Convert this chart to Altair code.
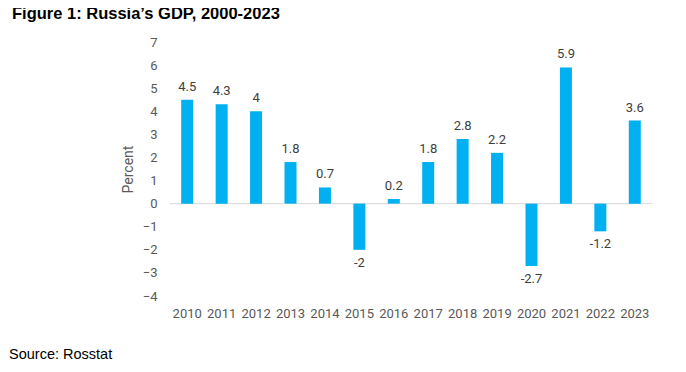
import altair as alt
import pandas as pd

years = ["2010", "2011", "2012", "2013", "2014", "2015", "2016", "2017",
         "2018", "2019", "2020", "2021", "2022", "2023"]
growth = [4.5, 4.3, 4, 1.8, 0.7, -2, 0.2, 1.8, 2.8, 2.2, -2.7, 5.9, -1.2, 3.6]
y_ticks = [-4, -3, -2, -1, 0, 1, 2, 3, 4, 5, 6, 7]
title_text = "Figure 1: Russia\u2019s GDP, 2000-2023"
source_text = "Source: Rosstat"

df = pd.DataFrame({"year": years, "value": growth})
df["label"] = [f"{v:g}" for v in growth]

FONT = "Roboto"
GRAY = "#595959"
y_scale = alt.Scale(domain=[-4, 7], nice=False, zero=False)
x_scale = alt.Scale(paddingInner=0.0, paddingOuter=0.0)

x_axis = alt.Axis(labelAngle=0, domain=False, ticks=False, tickSize=0,
                  labelPadding=11, labelFont=FONT, labelFontSize=13,
                  labelColor=GRAY)
y_axis = alt.Axis(values=y_ticks, grid=False, domain=False, ticks=False,
                  tickSize=0, labelPadding=13, labelFont=FONT,
                  labelFontSize=13, labelColor=GRAY, labelOverlap=False,
                  titleFont=FONT, titleFontSize=14, titleColor=GRAY,
                  titleFontWeight="normal", titleX=-42, titleY=127,
                  titleAngle=-90, titleBaseline="middle")


def xe():
    return alt.X("year:N", sort=years, title=None, scale=x_scale, axis=x_axis)


def ye(field="value:Q"):
    return alt.Y(field, title="Percent", scale=y_scale, axis=y_axis)


base = alt.Chart(df)

bars = base.mark_bar(size=12, color="#00B0F0").encode(x=xe(), y=ye())

zero = alt.Chart(pd.DataFrame({"z": [0]})).mark_rule(
    color="#d9d9d9", strokeWidth=1).encode(y=ye("z:Q"))

pos_labels = base.transform_filter("datum.value >= 0").mark_text(
    baseline="bottom", dy=-6, font=FONT, fontSize=13, color="#404040").encode(
    x=xe(), y=ye(), text="label:N")
neg_labels = base.transform_filter("datum.value < 0").mark_text(
    baseline="top", dy=7, font=FONT, fontSize=13, color="#404040").encode(
    x=xe(), y=ye(), text="label:N")

title_mark = alt.Chart(pd.DataFrame({"t": [title_text]})).mark_text(
    align="left", baseline="middle", font="Liberation Sans", fontSize=16.5,
    fontWeight="bold", color="#000000").encode(
    x=alt.value(-158), y=alt.value(-28), text="t:N")
source_mark = alt.Chart(pd.DataFrame({"t": [source_text]})).mark_text(
    align="left", baseline="middle", font="Liberation Sans", fontSize=14.5,
    color="#000000").encode(
    x=alt.value(-161), y=alt.value(313), text="t:N")

chart = alt.layer(zero, bars, pos_labels, neg_labels, title_mark, source_mark).properties(
    width=482, height=254,
    autosize=alt.AutoSizeParams(type="none"),
    padding={"left": 162, "top": 34, "right": 26, "bottom": 68},
).configure(background="white").configure_view(strokeWidth=0)

chart.save("out.html", embed_options={"renderer": "svg", "actions": False})
